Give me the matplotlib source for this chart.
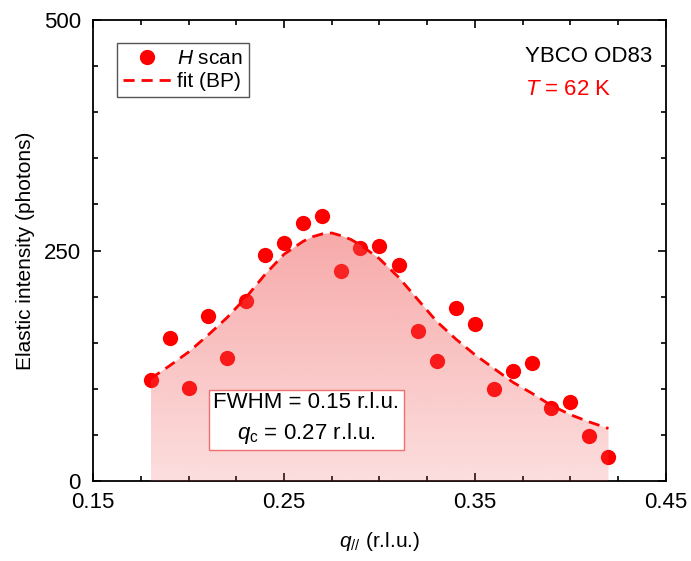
import numpy as np
import matplotlib
matplotlib.use("Agg")
import matplotlib.pyplot as plt
from matplotlib.colors import LinearSegmentedColormap
from matplotlib.ticker import MultipleLocator

plt.rcParams['font.family'] = ['Liberation Sans', 'DejaVu Sans']
plt.rcParams['mathtext.fontset'] = 'custom'
plt.rcParams['mathtext.rm'] = 'Liberation Sans'
plt.rcParams['mathtext.it'] = 'Liberation Sans:italic'

# H scan data
q_data = [0.18, 0.19, 0.20, 0.21, 0.22, 0.23, 0.24, 0.25, 0.26, 0.27, 0.28, 0.29, 0.30,
          0.31, 0.32, 0.33, 0.34, 0.35, 0.36, 0.37, 0.38, 0.39, 0.40, 0.41, 0.42]
I_data = [110, 155, 101, 179, 133, 195, 245, 258, 280, 287, 228, 253, 255,
          234, 163, 130, 188, 170, 100, 119, 128, 79, 86, 49, 26]

# fit (BP)
q_fit = [0.18, 0.19, 0.20, 0.21, 0.22, 0.23, 0.24, 0.25, 0.26, 0.265, 0.27, 0.275, 0.28,
         0.285, 0.29, 0.30, 0.31, 0.32, 0.33, 0.34, 0.35, 0.36, 0.37, 0.38, 0.39, 0.40, 0.41, 0.42]
I_fit = [111, 125, 140, 158, 177, 199, 224, 246, 260, 265, 268, 269, 266,
         262, 256, 241, 221, 197, 173, 154, 137, 122, 107, 95, 82, 72, 64, 57]

xtick_vals = [0.15, 0.25, 0.35, 0.45]
xtick_labels = ['0.15', '0.25', '0.35', '0.45']

fig = plt.figure(figsize=(6.91, 5.61), dpi=100)
ax = fig.add_axes([0.135, 0.1426, 0.8284, 0.8217])

ax.plot(q_data, I_data, 'o', color='red', ms=11, mec='none', zorder=2, label='$H$ scan')

# gradient fill under fit curve
cmap = LinearSegmentedColormap.from_list(
    'pinkgrad', [(240/255, 80/255, 80/255, 0.19), (240/255, 80/255, 80/255, 0.49)])
grad = np.linspace(0, 1, 256).reshape(-1, 1)
im = ax.imshow(grad, cmap=cmap, aspect='auto', origin='lower',
               extent=[q_fit[0], q_fit[-1], 0, max(I_fit)], zorder=3)
poly = ax.fill_between(q_fit, 0, I_fit, color='none', lw=0)
im.set_clip_path(poly.get_paths()[0], transform=ax.transData)

ax.plot(q_fit, I_fit, '--', color='red', lw=2, dashes=(4, 2.5), zorder=4, label='fit (BP)')

ax.set_xlim(0.15, 0.45)
ax.set_ylim(0, 500)
ax.set_xticks(xtick_vals)
ax.set_xticklabels(xtick_labels)
ax.xaxis.set_minor_locator(MultipleLocator(0.025))
ax.yaxis.set_major_locator(MultipleLocator(250))
ax.yaxis.set_minor_locator(MultipleLocator(50))
ax.tick_params(which='both', direction='in', top=True, right=True, labelsize=16, width=1.2)
ax.tick_params(which='major', length=6)
ax.tick_params(which='minor', length=3.5)
ax.tick_params(axis='x', which='major', pad=8)
ax.tick_params(axis='y', which='major', pad=9)
for s in ax.spines.values():
    s.set_linewidth(1.3)

ax.set_xlabel('$q_{//}$ (r.l.u.)', fontsize=15, labelpad=12)
ax.set_ylabel('Elastic intensity (photons)', fontsize=15, labelpad=6)

leg = ax.legend(loc='upper left', bbox_to_anchor=(0.041, 0.951), borderaxespad=0,
                fontsize=15, fancybox=False, edgecolor='#555555', framealpha=1,
                handlelength=2.3, handletextpad=0.3, borderpad=0.3, labelspacing=0.2)
leg.get_frame().set_linewidth(1.0)

ax.text(0.755, 0.92, 'YBCO OD83', transform=ax.transAxes, fontsize=16, color='black', va='center')
ax.text(0.755, 0.85, '$T$ = 62 K', transform=ax.transAxes, fontsize=16, color='red', va='center')

ax.text(0.372, 0.1345, 'FWHM = 0.15 r.l.u.\n$q_{\\rm c}$ = 0.27 r.l.u.', transform=ax.transAxes,
        fontsize=16, ha='center', va='center', zorder=6, linespacing=1.4,
        bbox=dict(boxstyle='square,pad=0.2', fc='white', ec='#f07070', lw=1))

fig.savefig('out.png', dpi=100)
